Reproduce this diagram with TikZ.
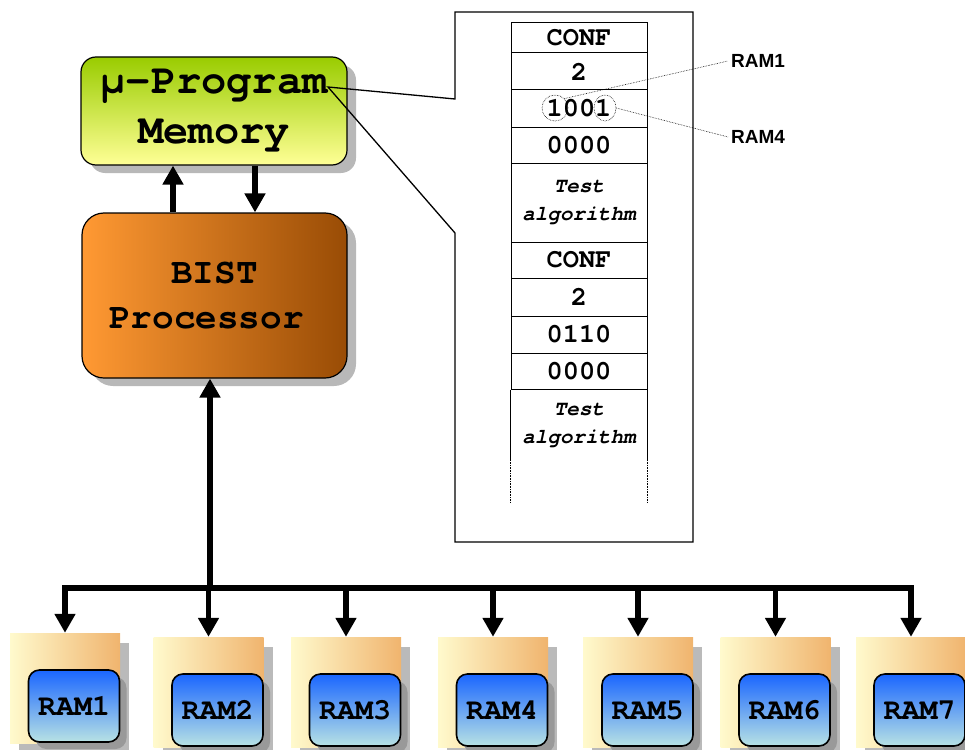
\documentclass[tikz,border=0pt]{standalone}
\usepackage{fontspec}
\IfFontExistsTF{TeX Gyre Cursor}{\setmonofont{TeX Gyre Cursor}}{\setmonofont{Liberation Mono}}
\setsansfont{Liberation Sans}
\usetikzlibrary{arrows.meta,shadows,shapes.geometric}
\definecolor{memtop}{RGB}{153,204,0}
\definecolor{membot}{RGB}{255,255,150}
\definecolor{bistL}{RGB}{255,153,51}
\definecolor{bistR}{RGB}{153,76,5}
\definecolor{pkgL}{RGB}{255,250,205}
\definecolor{pkgR}{RGB}{240,180,110}
\definecolor{ramT}{RGB}{26,102,255}
\definecolor{ramB}{RGB}{184,226,228}
\begin{document}
\begin{tikzpicture}[x=1pt,y=-1pt,
  memfont/.style={font=\fontsize{42}{50}\selectfont\ttfamily\bfseries},
  bistfont/.style={font=\fontsize{36}{45}\selectfont\ttfamily\bfseries},
  ramfont/.style={font=\fontsize{30}{30}\selectfont\ttfamily\bfseries},
  cellfont/.style={font=\fontsize{27}{28}\selectfont\ttfamily\bfseries},
  algfont/.style={font=\fontsize{21}{28}\selectfont\ttfamily\bfseries\itshape},
  lblfont/.style={font=\fontsize{19}{22}\selectfont\sffamily\bfseries},
  membox/.style={draw, line width=1.2pt, rounded corners=15pt, top color=memtop, bottom color=membot,
    minimum width=266pt, minimum height=108pt, align=center, inner sep=0pt, memfont,
    drop shadow={shadow xshift=9pt, shadow yshift=-8pt, fill=black!28, opacity=1}},
  bistbox/.style={draw, line width=1.2pt, rounded corners=22pt, left color=bistL, right color=bistR,
    minimum width=265pt, minimum height=165pt, align=center, inner sep=0pt, bistfont,
    drop shadow={shadow xshift=9pt, shadow yshift=-8pt, fill=black!28, opacity=1}},
  pkg/.style={left color=pkgL, right color=pkgR, minimum width=110pt, minimum height=110pt, inner sep=0pt,
    drop shadow={shadow xshift=9pt, shadow yshift=-10pt, fill=black!27, opacity=1}},
  ram/.style={draw, line width=1.6pt, rounded corners=11pt, top color=ramT, bottom color=ramB,
    minimum width=91pt, minimum height=72pt, inner sep=0pt, ramfont,
    drop shadow={shadow xshift=7pt, shadow yshift=-7pt, fill=black!40, opacity=1}},
  bigarrow/.style={line width=5.5pt, -{Triangle[width=20pt,length=19pt]}},
  cell/.style={draw, line width=1pt, minimum width=136pt, inner sep=0pt, cellfont},
  tableline/.style={line width=1pt},
  dotline/.style={densely dotted, line width=0.6pt}
]
\useasboundingbox (0,0) rectangle (965,749);

% main boxes
\node[membox] (mem) at (214,111) {μ-Program\\Memory};
\node[bistbox] (bist) at (214.5,295.5) {BIST\\Processor\hspace*{16pt}};

% RAM packages
\node[pkg] (pkg1) at (65,688) {};
\node[pkg] (pkg2) at (208.5,692) {};
\node[pkg] (pkg3) at (346,692) {};
\node[pkg] (pkg4) at (493,692) {};
\node[pkg] (pkg5) at (638,692) {};
\node[pkg] (pkg6) at (775.5,692) {};
\node[pkg] (pkg7) at (911,692) {};

\node[ram] (ram1) at (74,706) {RAM1};
\node[ram] (ram2) at (217.5,710) {RAM2};
\node[ram] (ram3) at (355,710) {RAM3};
\node[ram] (ram4) at (502,710) {RAM4};
\node[ram] (ram5) at (647.5,710) {RAM5};
\node[ram] (ram6) at (784.5,710) {RAM6};
\node[ram] (ram7) at (919.5,710) {RAM7};

% arrows between memory and processor
\draw[bigarrow] ([xshift=-41.5pt]bist.north) -- ([xshift=-41pt]mem.south);
\draw[bigarrow] ([xshift=41pt]mem.south) -- ([xshift=40.5pt]bist.north);

% bus
\coordinate (busJ) at (210,588);
\draw[bigarrow] (busJ) -- (busJ |- bist.south);
\draw[bigarrow] (busJ) -| (pkg1.north);
\draw[bigarrow] (busJ) -| (pkg7.north);
\draw[bigarrow] (pkg2.north |- busJ) -- (pkg2.north);
\draw[bigarrow] (pkg3.north |- busJ) -- (pkg3.north);
\draw[bigarrow] (pkg4.north |- busJ) -- (pkg4.north);
\draw[bigarrow] (pkg5.north |- busJ) -- (pkg5.north);
\draw[bigarrow] (pkg6.north |- busJ) -- (pkg6.north);

% callout
\coordinate (tip) at (328,87);
\draw[line width=1.3pt] (455,12) -- (693,12) -- (693,542) -- (455,542) -- (455,233) -- (tip) -- (455,99) -- cycle;

% table
\node[cell, minimum height=30pt] (c1) at (579,38) {CONF};
\node[cell, minimum height=37pt] (c2) at (579,71.5) {2};
\node[cell, minimum height=37pt] (c3) at (579,108.5) {1001};
\node[cell, minimum height=36pt] (c4) at (579,145) {0000};
\node[cell, minimum height=79pt, algfont, align=center] (c5) at (579,202.5) {Test\\algorithm};
\node[cell, minimum height=36pt] (c6) at (579,260) {CONF};
\node[cell, minimum height=38pt] (c7) at (579,297) {2};
\node[cell, minimum height=37pt] (c8) at (579,334.5) {0110};
\node[cell, minimum height=36pt] (c9) at (579,371) {0000};
\node[algfont, align=center, inner sep=0pt] (c10) at (579,425) {Test\\algorithm};
\draw[tableline] (c9.south west) -- ++(0,69) coordinate (lw);
\draw[dotline] (lw) -- ++(0,44);
\draw[tableline] (c9.south east) -- ++(0,69) coordinate (rw);
\draw[dotline] (rw) -- ++(0,44);

% RAM selection marks
\node[draw, dotline, ellipse, minimum width=26pt, minimum height=26pt, inner sep=0pt] (e1) at (555,108) {};
\node[draw, dotline, ellipse, minimum width=22pt, minimum height=26pt, inner sep=0pt] (e2) at (605,108) {};
\node[lblfont, anchor=west, inner sep=3pt] (l1) at (728,61) {RAM1};
\node[lblfont, anchor=west, inner sep=3pt] (l4) at (728,137) {RAM4};
\draw[dotline] (e1.north east) -- (l1.west);
\draw[dotline] (e2.east) -- (l4.west);
\end{tikzpicture}
\end{document}
